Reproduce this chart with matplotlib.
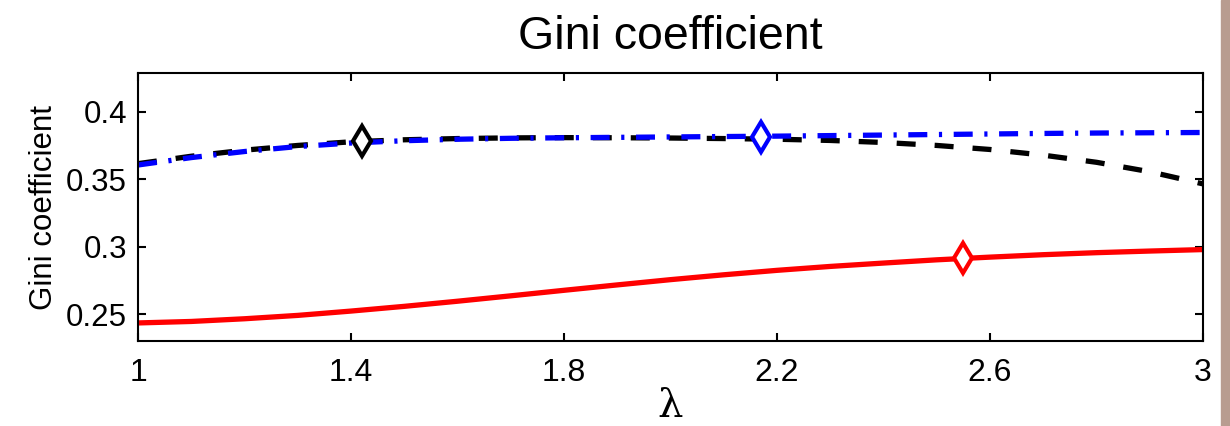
import matplotlib
matplotlib.use("Agg")
import matplotlib.pyplot as plt
from matplotlib.patches import Rectangle

# lambda values and Gini coefficients
lam = [1.0, 1.1, 1.2, 1.3, 1.4, 1.5, 1.6, 1.7, 1.8, 1.9, 2.0,
       2.1, 2.2, 2.3, 2.4, 2.5, 2.6, 2.7, 2.8, 2.9, 3.0]
gini_red = [0.2434, 0.2445, 0.2465, 0.2490, 0.2522, 0.2557, 0.2595, 0.2635, 0.2676, 0.2716, 0.2755,
            0.2791, 0.2824, 0.2853, 0.2878, 0.2902, 0.2922, 0.2940, 0.2955, 0.2967, 0.2978]
gini_black = [0.3615, 0.3670, 0.3715, 0.3750, 0.3777, 0.3792, 0.3801, 0.3806, 0.3808, 0.3807, 0.3805,
              0.3801, 0.3796, 0.3787, 0.3772, 0.3750, 0.3720, 0.3678, 0.3625, 0.3555, 0.3465]
gini_blue = [0.3605, 0.3660, 0.3705, 0.3742, 0.3768, 0.3785, 0.3796, 0.3803, 0.3807, 0.3810, 0.3813,
             0.3816, 0.3819, 0.3823, 0.3827, 0.3831, 0.3835, 0.3839, 0.3842, 0.3844, 0.3846]

# maxima markers (lambda, gini)
mark_black = (1.42, 0.378)
mark_blue = (2.17, 0.3816)
mark_red = (2.55, 0.2912)

xticks = [1, 1.4, 1.8, 2.2, 2.6, 3]
xticklabels = ["1", "1.4", "1.8", "2.2", "2.6", "3"]
yticks = [0.25, 0.3, 0.35, 0.4]
yticklabels = ["0.25", "0.3", "0.35", "0.4"]

narrow = ["Liberation Sans Narrow", "Liberation Sans"]

fig = plt.figure(figsize=(12.3, 4.26), dpi=100)
ax = fig.add_axes([0.1122, 0.1995, 0.8659, 0.6291])

ax.plot(lam, gini_red, color="red", lw=3.8, solid_capstyle="butt")
ax.plot(lam, gini_black, color="black", lw=3.8, dashes=(3.6, 3.6))
ax.plot(lam, gini_blue, color="blue", lw=3.8, dashes=(3.6, 2.2, 0.6, 2.2))

for (mx, my), c in [(mark_black, "black"), (mark_blue, "blue"), (mark_red, "red")]:
    ax.plot([mx], [my], marker="d", markersize=15, markerfacecolor="white",
            markeredgecolor=c, markeredgewidth=3, linestyle="none")

ax.set_xlim(1, 3)
ax.set_ylim(0.23, 0.4287)
ax.set_xticks(xticks)
ax.set_xticklabels(xticklabels, family=narrow, fontsize=23)
ax.set_yticks(yticks)
ax.set_yticklabels(yticklabels, family="Liberation Sans", fontsize=22.5)
ax.tick_params(direction="in", length=6, width=1.5, top=True, right=True, pad=8)
ax.tick_params(axis="x", pad=12)
for s in ax.spines.values():
    s.set_linewidth(1.5)

ax.set_title("Gini coefficient", family="Liberation Sans", fontsize=33.5, pad=17)
ax.set_ylabel("Gini coefficient", family=narrow, fontsize=22.5, labelpad=5)
ax.set_xlabel("λ", family="DejaVu Serif", fontsize=29, labelpad=0)

# brownish page edge on the right
fig.patches.append(Rectangle((1221 / 1230, 0), 9 / 1230, 1, transform=fig.transFigure,
                             color="#b89c90", zorder=0))

fig.savefig("out.png", dpi=100)
